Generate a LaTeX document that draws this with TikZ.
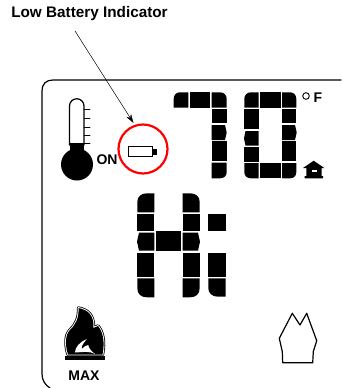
\documentclass[tikz,border=0pt]{standalone}
\usepackage{fontspec}
\setmainfont{Liberation Sans}
\usepackage{tikz}
\usetikzlibrary{arrows.meta}
\tikzset{
  seg/.style={fill=black,draw=none},
  lbl/.style={font=\bfseries\fontsize{14}{16}\selectfont,inner sep=0pt},
  pointer/.style={-{Stealth[length=9pt,width=5.5pt]},line width=0.5pt},
}
\newcommand{\segbox}[4]{\fill[seg] (#1,#2) rectangle (#3,#4);}
\newcommand{\flamepath}{(68,354.5) .. controls (65,345) and (65,335) .. (70,330) .. controls (76,324) and (79,318) .. (78.5,308) .. controls (88,310) and (94,315) .. (93.5,328) -- (98,326) .. controls (103,332) and (105,342) .. (102.5,354.5) -- cycle}
\begin{document}
\begin{tikzpicture}[x=1pt,y=-1pt,line cap=round]
\useasboundingbox (0,0) rectangle (341,388);
% frame
\draw[line width=1.2pt] (341,80) -- (53,80) .. controls (46,80) and (42,84) .. (42,91) -- (42,374) .. controls (42,380) and (45,385) .. (50,388);
% label and pointer
\node[lbl,font=\bfseries\fontsize{15.3}{17}\selectfont] (title) at (89.5,14) {Low Battery Indicator};
\coordinate (tail) at (75,31);
\node[circle,draw=red,line width=2.2pt,minimum size=49pt,inner sep=0pt] (ring) at (143,149) {};
\draw[pointer] (tail) -- (133.5,123);
% thermometer
\fill (77,164.5) circle (16);
\fill (69.5,143) rectangle (84,155);
\draw[line width=1.2pt] (69.5,145) -- (69.5,106) arc[start angle=180,end angle=360,radius=7.25] -- (84,145);
\foreach \y in {109,118,127,135,143}
  \draw[line width=0.8pt] (84,\y) -- (90,\y);
\node[lbl] (on) at (107,159.5) {ON};
% battery
\draw[line width=1.7pt] (128.5,146.5) rectangle (152.5,156.5);
\fill (153,149) rectangle (157,154.5);
% digit 7
\fill[seg] (173.7,107.7) -- (173.7,99) .. controls (173.7,95) and (176,92.3) .. (180,92.3) -- (188.3,92.3) -- (188.3,107.7) -- cycle;
\segbox{189.7}{92.3}{210}{107.7}
\fill[seg] (211.7,92.3) -- (220,92.3) .. controls (224,92.3) and (226.7,95) .. (226.7,99) -- (226.7,107.7) -- (211.7,107.7) -- cycle;
\segbox{211.7}{109}{226.7}{123.3}
\fill[seg] (211.7,125) -- (225,125) -- (226.7,132.5) -- (225,140) -- (211.7,140) -- cycle;
\segbox{211.7}{141.3}{226.7}{161}
\fill[seg] (211.7,162.7) -- (226.7,162.7) -- (226.7,172) .. controls (226.7,176) and (224,178.3) .. (220,178.3) -- (211.7,178.3) -- cycle;
% digit 0
\fill[seg] (244.3,107.7) -- (244.3,99) .. controls (244.3,95) and (247,92.3) .. (251,92.3) -- (258.7,92.3) -- (258.7,107.7) -- cycle;
\segbox{260}{92.3}{280.7}{107.7}
\fill[seg] (282,92.3) -- (290,92.3) .. controls (294,92.3) and (296.3,95) .. (296.3,99) -- (296.3,107.7) -- (282,107.7) -- cycle;
\segbox{244.3}{109}{258.7}{129.3}
\fill[seg] (245.5,131) -- (258.7,131) -- (258.7,145.7) -- (245.5,145.7) -- (244,138.3) -- cycle;
\segbox{244.3}{147}{258.7}{161.7}
\fill[seg] (244.3,163) -- (258.7,163) -- (258.7,178.3) -- (251,178.3) .. controls (247,178.3) and (244.3,176) .. (244.3,172) -- cycle;
\segbox{260}{163}{280.7}{178.3}
\segbox{282}{109}{296.3}{123.3}
\fill[seg] (282,125) -- (295,125) -- (296.7,132.5) -- (295,140) -- (282,140) -- cycle;
\segbox{282}{141.3}{296.3}{161}
\fill[seg] (282,163) -- (296.3,163) -- (296.3,172) .. controls (296.3,176) and (294,178.3) .. (290,178.3) -- (282,178.3) -- cycle;
% degrees
\draw[line width=0.9pt] (306,96) circle (3.3);
\node[lbl] (unit) at (318,98) {F};
% house
\fill (313.7,160.7) -- (324.3,168) -- (321.7,168) -- (321.7,176) -- (323,176) -- (323,178.3) -- (304.5,178.3) -- (304.5,176) -- (306.3,176) -- (306.3,168) -- (303,168) -- cycle;
\fill[white] (311.7,169.5) rectangle (316.7,171.7);
% letter H
\fill[seg] (137.3,212.3) -- (137.3,202) .. controls (137.3,196.5) and (141,193.3) .. (147,193.3) -- (154.3,193.3) -- (154.3,212.3) -- cycle;
\segbox{137.3}{214}{154.3}{231.3}
\fill[seg] (139,232.7) -- (154.3,232.7) -- (154.3,250.7) -- (139,250.7) -- (137,241.7) -- cycle;
\segbox{137.3}{252.7}{154.3}{276.7}
\fill[seg] (137.3,278.3) -- (154.3,278.3) -- (154.3,297.3) -- (147,297.3) .. controls (141,297.3) and (137.3,294) .. (137.3,288) -- cycle;
\segbox{156.3}{231.3}{180.7}{250.7}
\fill[seg] (182.7,193.3) -- (190,193.3) .. controls (196,193.3) and (199.7,196.5) .. (199.7,202) -- (199.7,212.3) -- (182.7,212.3) -- cycle;
\segbox{182.7}{214}{199.7}{231.3}
\fill[seg] (182.7,232.7) -- (198,232.7) -- (200,241.7) -- (198,250.7) -- (182.7,250.7) -- cycle;
\segbox{182.7}{252.7}{199.7}{276.7}
\fill[seg] (182.7,278.3) -- (199.7,278.3) -- (199.7,288) .. controls (199.7,294) and (196,297.3) .. (190,297.3) -- (182.7,297.3) -- cycle;
% letter i
\segbox{208.3}{214}{225.7}{231.3}
\segbox{208.3}{252.7}{225.7}{276.7}
\fill[seg] (208.3,278.3) -- (225.7,278.3) -- (225.7,296.7) -- (218,296.7) .. controls (212,296.7) and (208.3,293) .. (208.3,288) -- cycle;
% flame
\draw[line width=3.4pt,line join=round] \flamepath;
\draw[white,line width=1.8pt,line join=round] \flamepath;
\fill \flamepath;
\fill (65,355.5) rectangle (105,360);
\fill[white] (75,352.5) .. controls (75,347) and (80,342) .. (86.7,339) .. controls (85,342) and (81,345) .. (81.7,349) .. controls (84,347) and (86,345) .. (88.3,345) .. controls (88.5,348) and (92,352) .. (95,354) .. controls (90,351) and (84,352) .. (75,352.5) -- cycle;
\node[lbl] (max) at (84,376) {MAX};
% outline
\draw[line width=1.2pt,line join=round] (282.7,362.7) -- (312.7,362.7) -- (313.3,351.7) -- (316.7,340.7) -- (306.7,313.3) -- (300,325) -- (292.3,313.3) -- (279.3,338.3) -- (282.3,351.7) -- cycle;
\end{tikzpicture}
\end{document}
